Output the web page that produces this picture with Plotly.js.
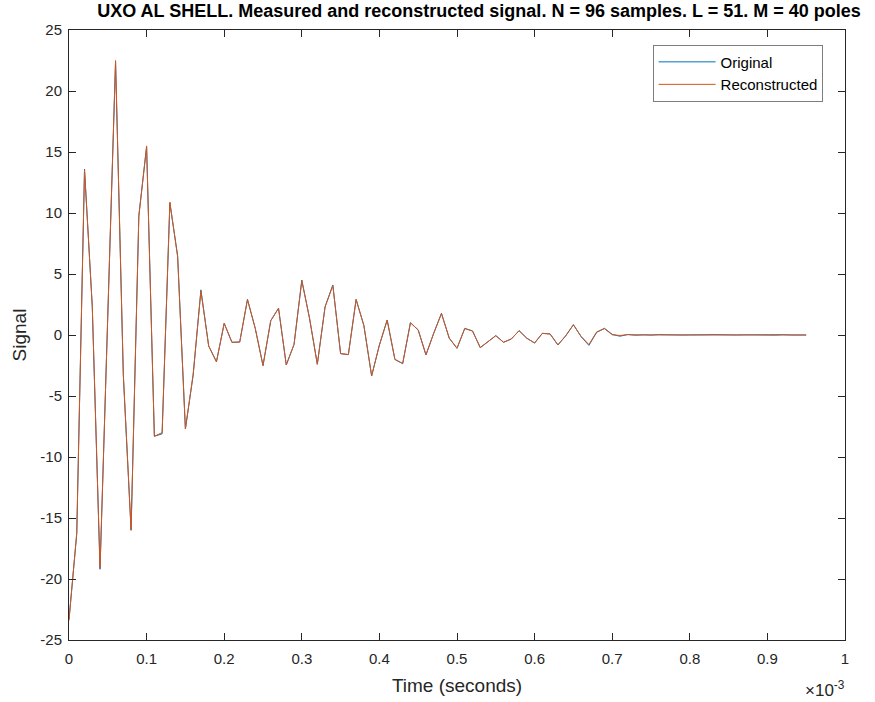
<!DOCTYPE html>
<html>
<head>
<meta charset="utf-8">
<script src="https://cdn.plot.ly/plotly-3.0.1.min.js"></script>
<style>html,body{margin:0;padding:0;background:#fff;}#chart{width:875px;height:702px;}</style>
</head>
<body>
<div id="chart"></div>
<script>
// Sampling
var N = 96;
var dt = 1e-5; // seconds per sample

// Measured signal
var original = [
  -23.3, -16.3, 13.6, 2.3, -19.2, 2.0, 22.4, -3.3, -16.0, 9.8,
  15.4, -8.3, -8.1, 10.8, 6.5, -7.7, -3.3, 3.7, -0.9, -2.2,
  0.96, -0.6, -0.58, 2.92, 0.54, -2.51, 1.18, 2.19, -2.46, -0.77,
  4.5, 1.36, -2.4, 2.32, 4.1, -1.53, -1.61, 2.92, 0.77, -3.36,
  -0.82, 1.23, -2.0, -2.35, 1.01, 0.41, -1.64, 0.14, 1.78, -0.27,
  -1.09, 0.54, 0.33, -1.04, -0.55, -0.05, -0.6, -0.33, 0.36, -0.27,
  -0.66, 0.14, 0.08, -0.82, -0.08, 0.85, -0.14, -0.85, 0.22, 0.55,
  0.05, -0.1, 0.04, -0.02, 0.02, -0.01, 0.03, 0.01, -0.02, 0.0,
  0.01, -0.01, 0.02, 0.03, 0.01, -0.02, 0.0, 0.01, 0.02, -0.01,
  -0.02, 0.01, 0.02, 0.0, -0.01, 0.0
];

// Reconstructed signal
var reconstructed = [
  -23.4, -16.2, 13.5, 2.4, -19.1, 2.0, 22.5, -3.2, -16.0, 9.7,
  15.5, -8.3, -8.0, 10.9, 6.4, -7.7, -3.2, 3.6, -0.9, -2.2,
  0.95, -0.6, -0.57, 2.9, 0.55, -2.5, 1.17, 2.2, -2.45, -0.78,
  4.45, 1.37, -2.4, 2.3, 4.05, -1.52, -1.6, 2.9, 0.78, -3.35,
  -0.83, 1.22, -2.0, -2.33, 1.0, 0.42, -1.62, 0.15, 1.75, -0.25,
  -1.08, 0.53, 0.33, -1.03, -0.54, -0.06, -0.59, -0.32, 0.35, -0.26,
  -0.65, 0.13, 0.09, -0.8, -0.07, 0.83, -0.12, -0.78, 0.25, 0.52,
  0.02, -0.04, 0.03, 0.0, 0.0, 0.01, 0.02, 0.0, -0.01, 0.0,
  0.0, 0.0, 0.01, 0.02, 0.01, -0.01, 0.0, 0.0, 0.01, 0.0,
  -0.03, -0.02, 0.01, 0.0, -0.02, 0.0
];

// Tick labels
var xTickVals = [0, 1e-4, 2e-4, 3e-4, 4e-4, 5e-4, 6e-4, 7e-4, 8e-4, 9e-4, 1e-3];
var xTickText = ["0", "0.1", "0.2", "0.3", "0.4", "0.5", "0.6", "0.7", "0.8", "0.9", "1"];
var yTickVals = [-25, -20, -15, -10, -5, 0, 5, 10, 15, 20, 25];
var yTickText = ["-25", "-20", "-15", "-10", "-5", "0", "5", "10", "15", "20", "25"];

var time = [];
for (var i = 0; i < N; i++) time.push(i * dt);

var axColor = '#262626';
var fontFam = 'Liberation Sans, Arial, Helvetica, sans-serif';

var traces = [
  {x: time, y: original, type: 'scatter', mode: 'lines', name: 'Original',
   line: {color: '#0072BD', width: 1}},
  {x: time, y: reconstructed, type: 'scatter', mode: 'lines', name: 'Reconstructed',
   line: {color: '#D95319', width: 1}}
];

var layout = {
  width: 875, height: 702,
  margin: {l: 69, r: 30, t: 30, b: 62, pad: 0},
  paper_bgcolor: '#ffffff', plot_bgcolor: '#ffffff',
  font: {family: fontFam, size: 15, color: axColor},
  title: {
    text: '<b>UXO AL SHELL. Measured and reconstructed signal. N = 96 samples. L = 51. M = 40 poles</b>',
    font: {family: fontFam, size: 18, color: '#000000'},
    x: 479 / 875, xanchor: 'center', xref: 'container',
    y: 1 - 11 / 702, yanchor: 'middle', yref: 'container'
  },
  xaxis: {
    range: [0, 1e-3], tickmode: 'array', tickvals: xTickVals, ticktext: xTickText,
    ticks: 'inside', ticklen: 7, tickwidth: 1, tickcolor: axColor,
    showline: true, linecolor: axColor, linewidth: 1, mirror: 'allticks',
    showgrid: false, zeroline: false, ticklabelstandoff: 5,
    tickfont: {family: fontFam, size: 15, color: axColor},
    title: {text: 'Time (seconds)', font: {family: fontFam, size: 19, color: axColor}, standoff: 12}
  },
  yaxis: {
    range: [-25, 25], tickmode: 'array', tickvals: yTickVals, ticktext: yTickText,
    ticks: 'inside', ticklen: 7, tickwidth: 1, tickcolor: axColor,
    showline: true, linecolor: axColor, linewidth: 1, mirror: 'allticks',
    showgrid: false, zeroline: false, ticklabelstandoff: 3,
    tickfont: {family: fontFam, size: 15, color: axColor},
    title: {text: 'Signal', font: {family: fontFam, size: 19, color: axColor}, standoff: 8}
  },
  showlegend: true,
  legend: {
    x: (653 - 69) / 776, y: (640 - 45) / 610, xanchor: 'left', yanchor: 'top',
    bgcolor: '#ffffff', bordercolor: axColor, borderwidth: 0.6,
    font: {family: fontFam, size: 15, color: '#000000'},
    itemwidth: 57, tracegroupgap: 0
  },
  annotations: [{
    text: '×10<sup>-3</sup>', xref: 'paper', yref: 'paper',
    x: 1.0, y: 0, xanchor: 'right', yanchor: 'top', yshift: -36, xshift: 2,
    showarrow: false, font: {family: fontFam, size: 17, color: axColor}
  }]
};

Plotly.newPlot('chart', traces, layout, {displayModeBar: false, staticPlot: true});
</script>
</body>
</html>
